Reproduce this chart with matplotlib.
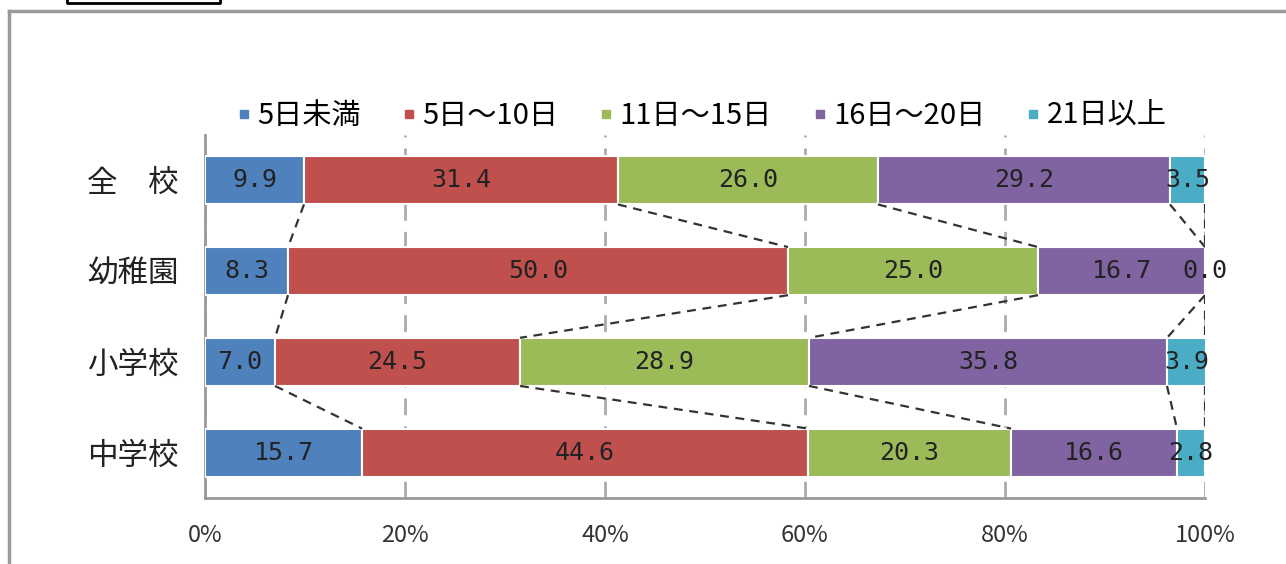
import matplotlib.pyplot as plt
import numpy as np
from matplotlib.lines import Line2D

plt.rcParams['font.family'] = ['Noto Sans CJK JP', 'DejaVu Sans']

# data (percent)
categories = ["全　校", "幼稚園", "小学校", "中学校"]
series_names = ["5日未満", "5日～10日", "11日～15日", "16日～20日", "21日以上"]
under5 = [9.9, 8.3, 7.0, 15.7]
d5_10 = [31.4, 50.0, 24.5, 44.6]
d11_15 = [26.0, 25.0, 28.9, 20.3]
d16_20 = [29.2, 16.7, 35.8, 16.6]
over21 = [3.5, 0.0, 3.9, 2.8]
colors = ["#4F81BD", "#C0504D", "#9BBB59", "#8064A2", "#4BACC6"]
xticks = [0, 20, 40, 60, 80, 100]

values = np.array([under5, d5_10, d11_15, d16_20, over21])
W, H = 1286, 564
fig = plt.figure(figsize=(W / 100, H / 100), dpi=100)
ax = fig.add_axes([205 / W, 1 - 498 / H, 1000 / W, 363 / H])

y = np.arange(len(categories))
bar_h = 0.53
left = np.zeros(len(categories))
for j, name in enumerate(series_names):
    ax.barh(y, values[j], left=left, height=bar_h, color=colors[j],
            edgecolor='white', linewidth=1.5, label=name, zorder=3)
    for i in range(len(categories)):
        ax.text(left[i] + values[j][i] / 2, y[i], f"{values[j][i]:.1f}",
                ha='center', va='center', fontsize=18, color='#222222',
                family=['DejaVu Sans Mono'], zorder=5)
    left = left + values[j]

# series lines between neighbouring bars
cum = np.cumsum(values, axis=0)
for j in range(len(series_names)):
    for i in range(len(categories) - 1):
        ax.plot([min(cum[j][i], 100), min(cum[j][i + 1], 100)],
                [y[i] + bar_h / 2, y[i + 1] - bar_h / 2],
                color='#333333', linestyle=(0, (4, 3)), linewidth=1.6, zorder=4)

ax.set_xlim(0, 100)
ax.set_ylim(len(categories) - 0.5, -0.5)
ax.set_xticks(xticks)
ax.set_xticklabels([f"{t}%" for t in xticks], fontsize=17, color='#333333')
ax.set_yticks(y)
ax.set_yticklabels(categories, fontsize=22, color='#222222')
ax.tick_params(axis='x', length=0, pad=19)
ax.tick_params(axis='y', length=0, pad=19)
ax.grid(axis='x', color='#aaaaaa', linestyle=(0, (6, 4)), linewidth=2, zorder=0)
for s in ['top', 'right']:
    ax.spines[s].set_visible(False)
for s in ['left', 'bottom']:
    ax.spines[s].set_color('#999999')
    ax.spines[s].set_linewidth(2)

handles = [Line2D([], [], marker='s', linestyle='none', markersize=6,
                  color=c) for c in colors]
ax.legend(handles, series_names, loc='center', bbox_to_anchor=(0.496, 1 + 19 / 363),
          ncol=5, frameon=False, fontsize=21, handlelength=0.6,
          handletextpad=0.15, columnspacing=1.35)

# outer frame and small box at top left
fig.add_artist(Line2D([8.5 / W, 8.5 / W], [0, 1 - 11 / H], color='#9a9a9a', lw=2.5))
fig.add_artist(Line2D([8.5 / W, 1], [1 - 11 / H, 1 - 11 / H], color='#9a9a9a', lw=2.5))
fig.add_artist(Line2D([67 / W, 67 / W, 220 / W, 220 / W],
                      [1, 1 - 3 / H, 1 - 3 / H, 1], color='black', lw=2))

fig.savefig('out.png', dpi=100)
